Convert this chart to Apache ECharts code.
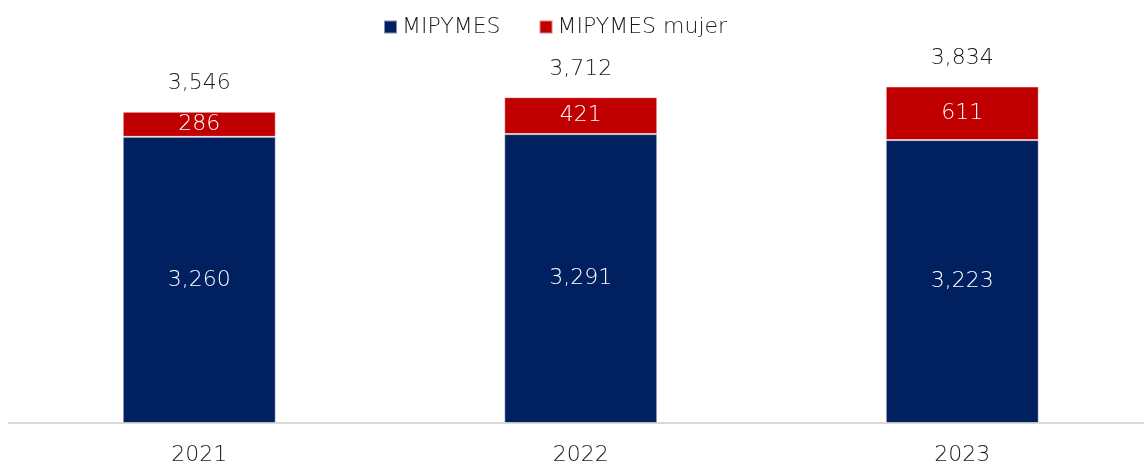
<!DOCTYPE html>
<html>
<head>
<meta charset="utf-8">
<script src="https://cdn.jsdelivr.net/npm/echarts@6/dist/echarts.min.js"></script>
<style>
  html, body { margin: 0; padding: 0; background: #fff; }
  #chart { width: 1144px; height: 466px; }
</style>
</head>
<body>
<div id="chart"></div>
<script>
const years = ['2021', '2022', '2023']
const mipymes = [3260, 3291, 3223]
const mipymesMujer = [286, 421, 611]
const totals = [3546, 3712, 3834]

const fontFamily = 'DejaVu Sans'
const fontWeight = 200
const fmt = v => v.toLocaleString('en-US')

const myChart = echarts.init(document.getElementById('chart'))
const option = {
  animation: false,
  textStyle: { fontFamily, fontWeight },
  legend: {
    data: ['MIPYMES', 'MIPYMES mujer'],
    left: 378,
    top: 11,
    icon: 'rect',
    itemWidth: 13,
    itemHeight: 13,
    itemGap: 38,
    textStyle: { fontSize: 22, color: '#1a1a1a', fontFamily, fontWeight },
  },
  grid: {
    left: 8.5,
    width: 1144.5,
    top: 28,
    bottom: 43,
    outerBoundsMode: 'none',
  },
  xAxis: {
    type: 'category',
    data: years,
    axisLine: { lineStyle: { color: '#d9d9d9', width: 2 } },
    axisTick: { show: false },
    axisLabel: { fontSize: 22, color: '#1a1a1a', margin: 21, fontFamily, fontWeight },
  },
  yAxis: {
    type: 'value',
    min: 0,
    max: 4500,
    show: false,
    splitLine: { show: false },
  },
  series: [
    {
      name: 'MIPYMES',
      type: 'bar',
      stack: 'Total',
      barWidth: 153,
      itemStyle: { color: '#002060', borderColor: 'rgba(255,255,255,0.5)', borderWidth: 1 },
      label: {
        show: true,
        position: 'inside',
        color: '#fff',
        fontSize: 22,
        fontFamily,
        fontWeight,
        formatter: p => fmt(p.value),
      },
      data: mipymes,
    },
    {
      name: 'MIPYMES mujer',
      type: 'bar',
      stack: 'Total',
      barWidth: 153,
      itemStyle: { color: '#c00000', borderColor: 'rgba(255,255,255,0.5)', borderWidth: 1 },
      label: {
        show: true,
        position: 'inside',
        color: '#fff',
        fontSize: 22,
        fontFamily,
        fontWeight,
        formatter: p => fmt(p.value),
      },
      data: mipymesMujer,
    },
    {
      name: 'Total',
      type: 'line',
      symbol: 'circle',
      symbolSize: 0,
      lineStyle: { opacity: 0 },
      silent: true,
      label: {
        show: true,
        position: 'top',
        distance: 17,
        color: '#1a1a1a',
        fontSize: 22,
        fontFamily,
        fontWeight,
        formatter: p => fmt(p.value),
      },
      data: totals,
    },
  ],
}

myChart.setOption(option, true)
</script>
</body>
</html>
